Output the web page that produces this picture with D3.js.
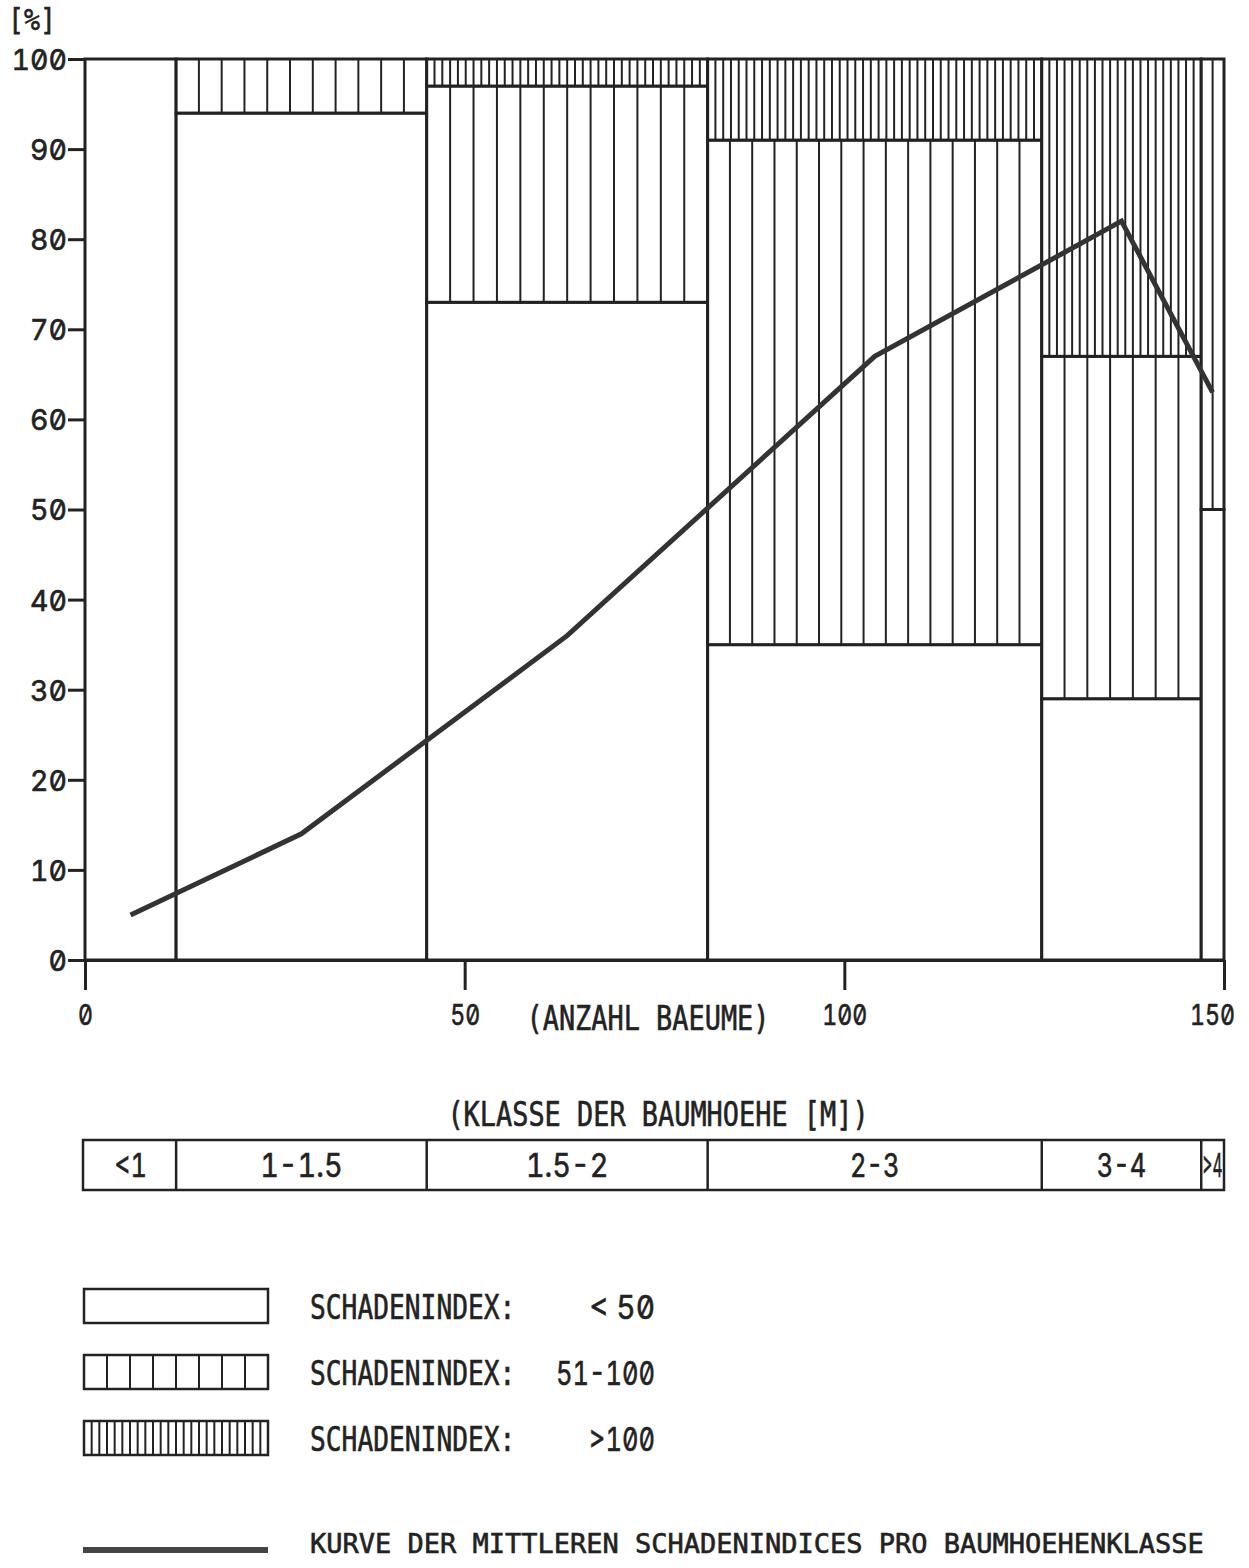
<!DOCTYPE html>
<html>
<head>
<meta charset="utf-8">
<script src="https://cdn.jsdelivr.net/npm/d3@7"></script>
<style>
  body { margin: 0; background: #fff; }
  text { font-family: "DejaVu Sans Mono", "Liberation Mono", monospace; fill: #222; stroke: #222; stroke-width: 0.6px; }
  .num { font-family: Inter, "DejaVu Sans", sans-serif; font-feature-settings: "zero" 1, "tnum" 1; }
</style>
</head>
<body>
<div id="chart"></div>
<script>
// tree height classes and number of trees in each
let classes = ['<1', '1-1.5', '1.5-2', '2-3', '3-4', '>4'];
let counts = [12, 33, 37, 44, 21, 3];
// share of trees per damage index group [%]
let lowShare = [100, 94, 73, 35, 29, 50];   // < 50
let midShare = [0, 6, 24, 56, 38, 50];      // 51-100
let highShare = [0, 0, 3, 9, 33, 0];        // > 100
// mean damage index curve per class
let curveValues = [5, 14, 36, 67, 82, 63];

let yTicks = [0, 10, 20, 30, 40, 50, 60, 70, 80, 90, 100];
let xTicks = [0, 50, 100, 150];

let ink = '#222';

let xScale = d3.scaleLinear().domain([0, 150]).range([85, 1224]);
let yScale = d3.scaleLinear().domain([0, 100]).range([960, 59]);

let svg = d3.select('#chart').append('svg')
    .attr('width', 1249)
    .attr('height', 1568);

svg.append('rect')
    .attr('width', 1249)
    .attr('height', 1568)
    .attr('fill', 'white');

function label(g, str, x, y, anchor, size, charW) {
    let t = g.append('text')
        .text(str)
        .attr('x', x)
        .attr('y', y)
        .attr('text-anchor', anchor)
        .style('font-size', size + 'px');
    if (charW) {
        t.attr('textLength', str.length * charW)
         .attr('lengthAdjust', 'spacingAndGlyphs');
    }
    return t;
}

// cumulative class boundaries
let starts = [];
let acc = 0;
counts.forEach(function(c){
    starts.push(acc);
    acc += c;
});

// axes
let yAxis = svg.append('g')
    .attr('transform', 'translate(' + xScale(0) + ',0)')
    .call(d3.axisLeft(yScale).tickValues(yTicks).tickSize(17).tickPadding(1).tickFormat(d3.format('d')));

let xAxis = svg.append('g')
    .attr('transform', 'translate(0,' + yScale(0) + ')')
    .call(d3.axisBottom(xScale).tickValues(xTicks).tickSize(30).tickPadding(14).tickSizeOuter(0));

[yAxis, xAxis].forEach(function(a){
    a.select('.domain').attr('stroke', ink).attr('stroke-width', 3);
    a.selectAll('.tick line').attr('stroke', ink).attr('stroke-width', 3);
    a.selectAll('.tick text')
        .attr('class', 'num')
        .attr('fill', ink)
        .style('font-size', '29px');
});
yAxis.selectAll('.tick text')
    .attr('dy', '0.36em')
    .attr('textLength', function(d){ return String(d).length * 18.5; })
    .attr('lengthAdjust', 'spacingAndGlyphs');
xAxis.selectAll('.tick text')
    .attr('dy', '0.72em')
    .attr('dx', function(d){ return d === 150 ? -12 : 0; })
    .attr('textLength', function(d){ return String(d).length * 15; })
    .attr('lengthAdjust', 'spacingAndGlyphs');

// bars: three stacked segments per class
let bars = svg.append('g').attr('id', 'bars');

function hatch(g, x0, x1, y0, y1, spacing) {
    let w = x1 - x0;
    let n = Math.max(2, Math.round(w / spacing));
    for (let i = 1; i < n; i++) {
        g.append('line')
            .attr('x1', x0 + i * w / n)
            .attr('x2', x0 + i * w / n)
            .attr('y1', y0)
            .attr('y2', y1)
            .attr('stroke', ink)
            .attr('stroke-width', 2);
    }
}

classes.forEach(function(c, i){
    let x0 = xScale(starts[i]);
    let x1 = xScale(starts[i] + counts[i]);
    let segs = [
        {from: 0, to: lowShare[i], spacing: 0},
        {from: lowShare[i], to: lowShare[i] + midShare[i], spacing: 23},
        {from: lowShare[i] + midShare[i], to: lowShare[i] + midShare[i] + highShare[i], spacing: 7.7}
    ];
    segs.forEach(function(s){
        if (s.to <= s.from) return;
        let g = bars.append('g');
        g.append('rect')
            .attr('x', x0)
            .attr('y', yScale(s.to))
            .attr('width', x1 - x0)
            .attr('height', yScale(s.from) - yScale(s.to))
            .attr('fill', 'white')
            .attr('stroke', ink)
            .attr('stroke-width', 3);
        if (s.spacing > 0) {
            hatch(g, x0, x1, yScale(s.to), yScale(s.from), s.spacing);
        }
    });
});

// curve of mean damage indices, drawn at class midpoints
let curvePoints = curveValues.map(function(v, i){
    return {x: starts[i] + counts[i] / 2, y: v};
});

svg.append('path')
    .datum(curvePoints)
    .attr('fill', 'none')
    .attr('stroke', '#333')
    .attr('stroke-width', 5)
    .attr('d', d3.line().x(d => xScale(d.x)).y(d => yScale(d.y)));

// texts around the plot
label(svg, '[%]', 8, 30, 'start', 30, 16);
label(svg, '(ANZAHL BAEUME)', 648, 1030, 'middle', 33, 16.2);
label(svg, '(KLASSE DER BAUMHOEHE [M])', 658, 1126, 'middle', 33, 16.2);

// class strip
let strip = svg.append('g').attr('id', 'classStrip');
strip.append('rect')
    .attr('x', xScale(0) - 2)
    .attr('y', 1140)
    .attr('width', xScale(150) - xScale(0) + 2)
    .attr('height', 50)
    .attr('fill', 'white')
    .attr('stroke', ink)
    .attr('stroke-width', 2.5);

classes.forEach(function(c, i){
    let x0 = xScale(starts[i]);
    let x1 = xScale(starts[i] + counts[i]);
    if (i > 0) {
        strip.append('line')
            .attr('x1', x0).attr('x2', x0)
            .attr('y1', 1140).attr('y2', 1190)
            .attr('stroke', ink)
            .attr('stroke-width', 2.5);
    }
    label(strip, c, (x0 + x1) / 2, 1177, 'middle', 33, c === '>4' ? 10 : 16.5)
        .attr('class', 'num');
});

// legend
let legend = svg.append('g').attr('id', 'legend');
let legendItems = [
    {y: 1289, spacing: 0, value: '< 50'},
    {y: 1355, spacing: 23, value: '51-100'},
    {y: 1421, spacing: 7.7, value: '>100'}
];

legendItems.forEach(function(d){
    legend.append('rect')
        .attr('x', 84)
        .attr('y', d.y)
        .attr('width', 184)
        .attr('height', 34)
        .attr('fill', 'white')
        .attr('stroke', ink)
        .attr('stroke-width', 2.5);
    if (d.spacing > 0) {
        hatch(legend, 84, 268, d.y, d.y + 34, d.spacing);
    }
    label(legend, 'SCHADENINDEX:', 310, d.y + 30, 'start', 33, 15.8);
    label(legend, d.value, 655, d.y + 30, 'end', 33, 16.5).attr('class', 'num');
});

legend.append('line')
    .attr('x1', 83)
    .attr('x2', 268)
    .attr('y1', 1550)
    .attr('y2', 1550)
    .attr('stroke', '#444')
    .attr('stroke-width', 6);

label(legend, 'KURVE DER MITTLEREN SCHADENINDICES PRO BAUMHOEHENKLASSE', 310, 1553, 'start', 27, 16.25);
</script>
</body>
</html>
